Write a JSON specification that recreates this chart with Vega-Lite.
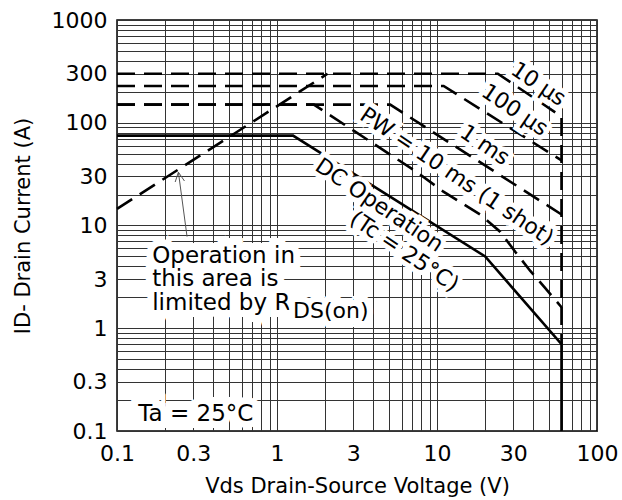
{
  "$schema": "https://vega.github.io/schema/vega-lite/v6.json",
  "width": 480,
  "height": 411,
  "autosize": "none",
  "padding": {"left": 117, "top": 20, "right": 25, "bottom": 69},
  "background": "white",
  "config": {
    "font": "DejaVu Sans",
    "view": {"stroke": "black", "strokeWidth": 1.5},
    "axis": {
      "grid": true, "gridColor": "#333", "gridOpacity": 1, "gridWidth": 1,
      "domain": false, "ticks": false, "zindex": 0,
      "labelFont": "DejaVu Sans", "labelFontSize": 22, "labelColor": "black",
      "titleFont": "DejaVu Sans", "titleFontSize": 21, "titleFontWeight": "normal", "titleColor": "black",
      "labelOverlap": false, "labelFlush": false
    }
  },
  "datasets": {
    "curves": [
      {"s": "10us", "i": 0, "v": 0.1, "a": 300},
      {"s": "10us", "i": 1, "v": 24, "a": 300},
      {"s": "10us", "i": 2, "v": 60, "a": 115},
      {"s": "10us", "i": 3, "v": 60, "a": 0.7},
      {"s": "100us", "i": 0, "v": 0.1, "a": 228},
      {"s": "100us", "i": 1, "v": 11, "a": 228},
      {"s": "100us", "i": 2, "v": 60, "a": 43},
      {"s": "1ms", "i": 0, "v": 0.1, "a": 150},
      {"s": "1ms", "i": 1, "v": 5.1, "a": 150},
      {"s": "1ms", "i": 2, "v": 60, "a": 12.8},
      {"s": "10ms", "i": 0, "v": 0.1, "a": 150},
      {"s": "10ms", "i": 1, "v": 1.7, "a": 150},
      {"s": "10ms", "i": 2, "v": 7.3, "a": 34},
      {"s": "10ms", "i": 3, "v": 10.9, "a": 21.5},
      {"s": "10ms", "i": 4, "v": 18.7, "a": 12.7},
      {"s": "10ms", "i": 5, "v": 24.9, "a": 8.65},
      {"s": "10ms", "i": 6, "v": 30.9, "a": 5.52},
      {"s": "10ms", "i": 7, "v": 38.3, "a": 3.61},
      {"s": "10ms", "i": 8, "v": 47.5, "a": 2.46},
      {"s": "10ms", "i": 9, "v": 60, "a": 1.6},
      {"s": "RDS", "i": 0, "v": 0.1, "a": 14.5},
      {"s": "RDS", "i": 1, "v": 2.07, "a": 300},
      {"s": "DC", "i": 0, "v": 0.1, "a": 75},
      {"s": "DC", "i": 1, "v": 1.26, "a": 75},
      {"s": "DC", "i": 2, "v": 20, "a": 5},
      {"s": "DC", "i": 3, "v": 60, "a": 0.7},
      {"s": "DC", "i": 4, "v": 60, "a": 0.1}
    ],
    "arrow": [
      {"s": "shaft", "i": 0, "v": 0.242, "a": 33},
      {"s": "shaft", "i": 1, "v": 0.274, "a": 7.8},
      {"s": "head", "i": 0, "v": 0.231, "a": 26.5},
      {"s": "head", "i": 1, "v": 0.242, "a": 33},
      {"s": "head", "i": 2, "v": 0.264, "a": 27.1}
    ],
    "labels": [
      {"t": "10 µs", "v": 43, "a": 238},
      {"t": "100 µs", "v": 30.6, "a": 133},
      {"t": "1 ms", "v": 19.9, "a": 60.7},
      {"t": "PW = 10 ms (1 shot)", "v": 13.3, "a": 30},
      {"t": "DC Operation", "v": 4.36, "a": 15.8},
      {"t": "(Tc = 25°C)", "v": 6.25, "a": 5.58}
    ],
    "notes": [
      {"t": ["Operation in", "this area is", "limited by R"], "v": 0.166, "a": 4.35},
      {"t": ["Ta = 25°C"], "v": 0.136, "a": 0.126}
    ],
    "sub": [
      {"t": "DS(on)", "v": 1.26, "a": 1.26}
    ]
  },
  "encoding": {
    "x": {
      "field": "v", "type": "quantitative",
      "scale": {"type": "log", "domain": [0.1, 100]},
      "axis": {
        "values": [0.1,0.2,0.3,0.4,0.5,0.6,0.7,0.8,0.9,1,2,3,4,5,6,7,8,9,10,20,30,40,50,60,70,80,90,100],
        "format": "~g",
        "labelExpr": "indexof([0.1,0.3,1,3,10,30,100], datum.value) >= 0 ? datum.label : ''",
        "title": "Vds Drain-Source Voltage (V)",
        "labelPadding": 12, "titlePadding": 11
      }
    },
    "y": {
      "field": "a", "type": "quantitative",
      "scale": {"type": "log", "domain": [0.1, 1000]},
      "axis": {
        "values": [0.1,0.2,0.3,0.4,0.5,0.6,0.7,0.8,0.9,1,2,3,4,5,6,7,8,9,10,20,30,40,50,60,70,80,90,100,200,300,400,500,600,700,800,900,1000],
        "format": "~g",
        "labelExpr": "indexof([0.1,0.3,1,3,10,30,100,300,1000], datum.value) >= 0 ? datum.label : ''",
        "title": "ID- Drain Current (A)",
        "labelPadding": 10, "titlePadding": 18
      }
    }
  },
  "layer": [
    {
      "data": {"name": "curves"},
      "transform": [{"filter": "datum.s != 'DC'"}],
      "mark": {"type": "line", "color": "black", "strokeWidth": 2.6, "strokeDash": [18, 9]},
      "encoding": {"detail": {"field": "s"}, "order": {"field": "i"}}
    },
    {
      "data": {"name": "curves"},
      "transform": [{"filter": "datum.s == 'DC'"}],
      "mark": {"type": "line", "color": "black", "strokeWidth": 2.6},
      "encoding": {"detail": {"field": "s"}, "order": {"field": "i"}}
    },
    {
      "data": {"name": "arrow"},
      "mark": {"type": "line", "color": "#555", "strokeWidth": 1},
      "encoding": {"detail": {"field": "s"}, "order": {"field": "i"}}
    },
    {
      "data": {"name": "labels"},
      "mark": {"type": "text", "angle": 34, "align": "center", "baseline": "middle", "fontSize": 22, "stroke": "white", "strokeWidth": 10},
      "encoding": {"text": {"field": "t"}}
    },
    {
      "data": {"name": "labels"},
      "mark": {"type": "text", "angle": 34, "align": "center", "baseline": "middle", "fontSize": 22, "color": "black"},
      "encoding": {"text": {"field": "t"}}
    },
    {
      "data": {"name": "notes"},
      "mark": {"type": "text", "align": "left", "baseline": "alphabetic", "fontSize": 23, "lineHeight": 23.5, "stroke": "white", "strokeWidth": 14},
      "encoding": {"text": {"field": "t"}}
    },
    {
      "data": {"name": "notes"},
      "mark": {"type": "text", "align": "left", "baseline": "alphabetic", "fontSize": 23, "lineHeight": 23.5, "color": "black"},
      "encoding": {"text": {"field": "t"}}
    },
    {
      "data": {"name": "sub"},
      "mark": {"type": "text", "align": "left", "baseline": "alphabetic", "fontSize": 22, "stroke": "white", "strokeWidth": 12},
      "encoding": {"text": {"field": "t"}}
    },
    {
      "data": {"name": "sub"},
      "mark": {"type": "text", "align": "left", "baseline": "alphabetic", "fontSize": 22, "color": "black"},
      "encoding": {"text": {"field": "t"}}
    }
  ]
}
